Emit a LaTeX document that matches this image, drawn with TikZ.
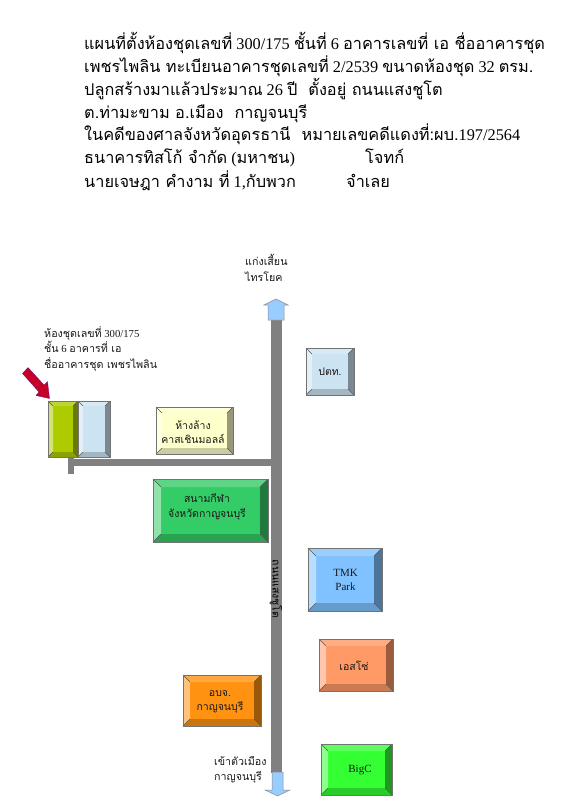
\documentclass[tikz,border=0pt]{standalone}
\usepackage{fontspec}
\setmainfont{Liberation Serif}
\newfontfamily\thaifont[Script=Thai]{Loma}
\newcommand{\T}[1]{{\thaifont #1}}
\definecolor{road}{HTML}{808080}
\definecolor{skyb}{HTML}{99CCFF}
\definecolor{cLime}{HTML}{AECB00}
\definecolor{cPale}{HTML}{CCE3F2}
\definecolor{cCream}{HTML}{FFFFCC}
\definecolor{cStad}{HTML}{33CC66}
\definecolor{cTmk}{HTML}{80C2FF}
\definecolor{cEsso}{HTML}{FF9966}
\definecolor{cOrange}{HTML}{FF9210}
\definecolor{cBig}{HTML}{33FF33}
\definecolor{cRed}{HTML}{C40026}
\newcommand{\bevelbox}[6]{% x0,y0,x1,y1, depth, base colour
  \fill[#6] (#1,#2) rectangle (#3,#4);
  \fill[#6!55!white] (#1,#2) -- (#1+#5,#2+#5) -- (#1+#5,#4-#5) -- (#1,#4) -- cycle;
  \fill[#6!80!white] (#1,#2) -- (#3,#2) -- (#3-#5,#2+#5) -- (#1+#5,#2+#5) -- cycle;
  \fill[#6!60!black] (#3,#2) -- (#3,#4) -- (#3-#5,#4-#5) -- (#3-#5,#2+#5) -- cycle;
  \fill[#6!80!black] (#1,#4) -- (#3,#4) -- (#3-#5,#4-#5) -- (#1+#5,#4-#5) -- cycle;
  \draw[black!65,line width=.5pt] (#1,#2) -- (#1+#5,#2+#5) (#3,#2) -- (#3-#5,#2+#5) (#1,#4) -- (#1+#5,#4-#5) (#3,#4) -- (#3-#5,#4-#5);
  \draw[black!55,line width=.5pt] (#1,#2) rectangle (#3,#4);
}
\tikzset{
  headline/.style={anchor=base west,inner sep=0pt,font=\fontsize{16.3}{18}\selectfont},
  boxlabel/.style={align=center,inner sep=0pt,text=black!90,font=\fontsize{10.5}{14.5}\selectfont},
  smalllabel/.style={align=left,inner sep=0pt,font=\fontsize{10.7}{15.6}\selectfont,text=black!90},
  roadbar/.style={fill=road},
  dirarrow/.style={fill=skyb,draw=black!45,line width=.5pt}
}
\begin{document}
\begin{tikzpicture}[x=1pt,y=-1pt]
\useasboundingbox (0,0) rectangle (566,800);
\fill[white] (0,0) rectangle (566,800);
% heading
\node[headline] (h1) at (84,50) {\T{แผนที่ตั้งห้องชุดเลขที่} 300/175 \T{ชั้นที่} 6 \T{อาคารเลขที่ เอ ชื่ออาคารชุด}};
\node[headline] (h2) at (84,72.5) {\T{เพชรไพลิน ทะเบียนอาคารชุดเลขที่} 2/2539 \T{ขนาดห้องชุด} 32 \T{ตรม.}};
\node[headline] (h3) at (84,95) {\T{ปลูกสร้างมาแล้วประมาณ} 26 \T{ปี\ \ ตั้งอยู่ ถนนแสงชูโต}};
\node[headline] (h4) at (84,118) {\T{ต.ท่ามะขาม อ.เมือง\ \ กาญจนบุรี}};
\node[headline] (h5) at (84,140.5) {\T{ในคดีของศาลจังหวัดอุดรธานี\ \ หมายเลขคดีแดงที่:ผบ.}197/2564};
\node[headline] (h6) at (84,163) {\T{ธนาคารทิสโก้ จำกัด} (\T{มหาชน})};
\node[headline] (h6b) at (365,163) {\T{โจทก์}};
\node[headline] (h7) at (84,187) {\T{นายเจษฎา คำงาม ที่} 1,\T{กับพวก}};
\node[headline] (h7b) at (346,187) {\T{จำเลย}};
% roads
\fill[roadbar] (271,320) rectangle (282,773);
\fill[roadbar] (68,459) rectangle (271,466);
\fill[roadbar] (68,457) rectangle (74,474);
% direction arrows
\draw[dirarrow] (268,320) -- (268,305) -- (264,305) -- (276,299) -- (288,305) -- (284,305) -- (284,320) -- cycle;
\draw[dirarrow] (272,772) -- (272,790) -- (265,790) -- (277.5,796) -- (290,790) -- (283,790) -- (283,772) -- cycle;
% red pointer
\draw[fill=cRed,draw=blue!40!cRed,line width=.3pt] (22.5,373.5) -- (28,367.5) -- (44,385) -- (47.5,381.5) -- (49.5,398.5) -- (36,395.5) -- (39,392) -- cycle;
% buildings
\bevelbox{48}{401}{78}{457}{5}{cLime}
\bevelbox{78}{401}{110}{457}{5}{cPale}
\bevelbox{156}{407}{233}{454}{6}{cCream}
\node[boxlabel] (b3) at (193,432) {\T{ห้างล้าง}\\\T{คาสเชินมอลล์}};
\bevelbox{306}{348}{354}{395}{6}{cPale}
\node[boxlabel] (b4) at (330,372) {\T{ปตท.}};
\bevelbox{153}{479}{268}{542}{8}{cStad}
\node[boxlabel] (b5) at (207,507) {\T{สนามกีฬา}\\\T{จังหวัดกาญจนบุรี}};
\bevelbox{308}{548}{382}{611}{8}{cTmk}
\node[boxlabel,font=\fontsize{11}{14}\selectfont] (b6) at (345.5,580) {TMK\\Park};
\bevelbox{319}{639}{393}{691}{7}{cEsso}
\node[boxlabel] (b7) at (354,666) {\T{เอสโซ่}};
\bevelbox{183}{675}{261}{726}{7}{cOrange}
\node[boxlabel] (b8) at (220,702) {\T{อบจ.}\\\T{กาญจนบุรี}};
\bevelbox{321}{744}{392}{795}{7}{cBig}
\node[boxlabel,font=\fontsize{11}{14}\selectfont] (b9) at (360,770) {BigC};
% labels
\node[smalllabel,anchor=north west] (room) at (44,326) {\T{ห้องชุดเลขที่} 300/175\\\T{ชั้น} 6 \T{อาคารที่ เอ}\\\T{ชื่ออาคารชุด เพชรไพลิน}};
\node[smalllabel,anchor=north west] (north) at (245,254) {\T{แก่งเสี้ยน}\\\T{ไทรโยค}};
\node[smalllabel,anchor=north west,font=\fontsize{10.7}{15}\selectfont] (south) at (214,756.5) {\T{เข้าตัวเมือง}\\\T{กาญจนบุรี}};
\node[inner sep=0pt,rotate=-90,font=\fontsize{10.5}{12}\selectfont,text=black] (rd) at (276,589) {\T{ถนนแสงชูโต}};
\end{tikzpicture}
\end{document}
